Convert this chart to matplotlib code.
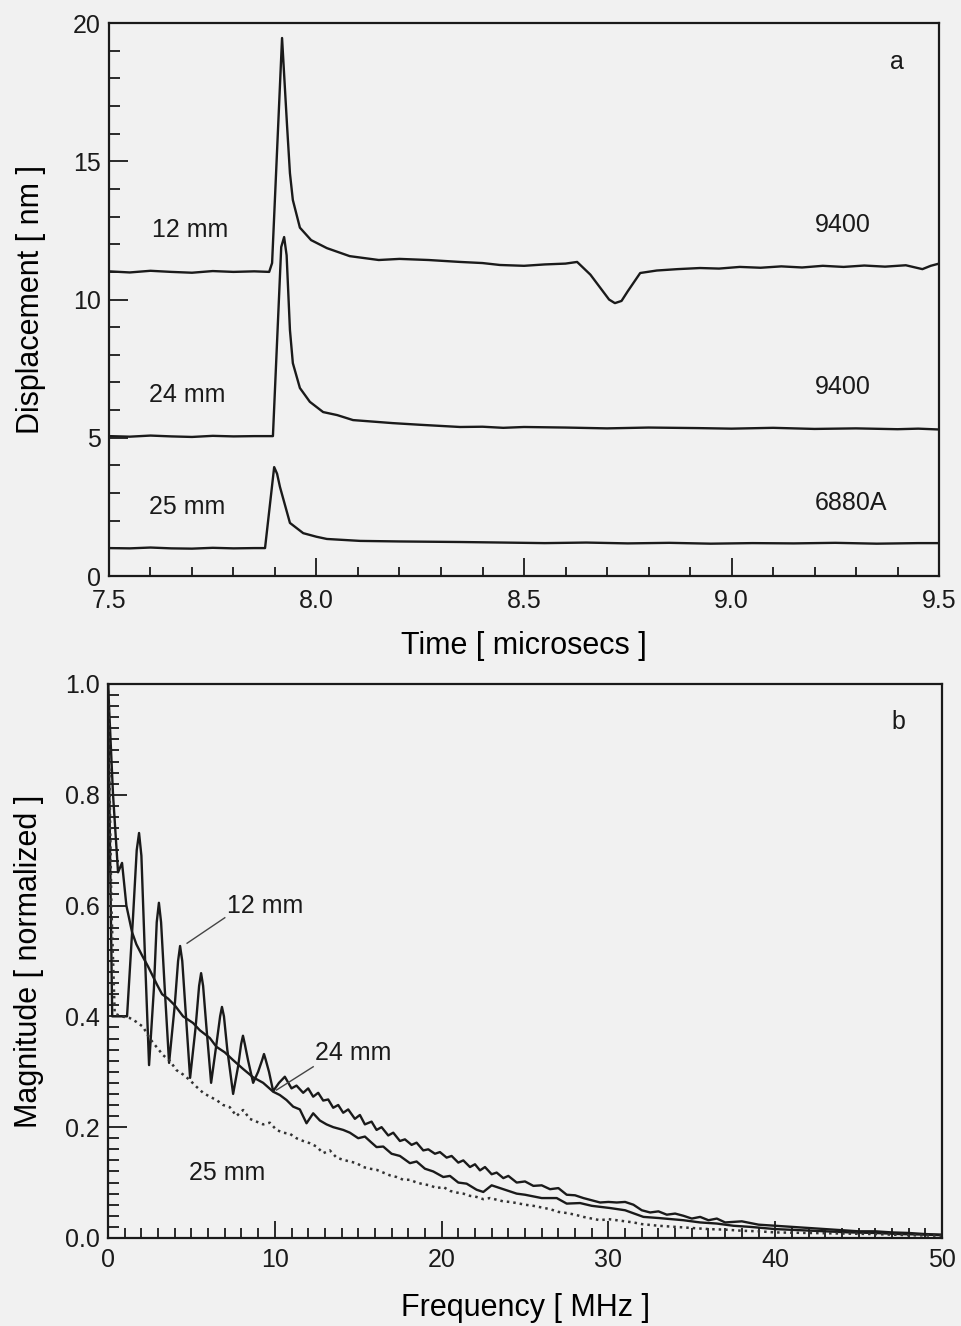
import matplotlib
matplotlib.use("Agg")
import matplotlib.pyplot as plt
from matplotlib.ticker import MultipleLocator, FormatStrFormatter

plt.rcParams['font.family'] = ['Liberation Sans', 'DejaVu Sans']

# ---- panel a: displacement traces (time in microsecs, displacement in nm)
t_12 = [7.50, 7.55, 7.60, 7.65, 7.70, 7.75, 7.80, 7.85, 7.886, 7.893,
        7.917, 7.929, 7.936, 7.943, 7.96, 7.987, 8.025, 8.08, 8.15, 8.20,
        8.27, 8.346, 8.40, 8.442, 8.50, 8.55, 8.60, 8.628, 8.66, 8.69,
        8.705, 8.719, 8.735, 8.75, 8.78, 8.82, 8.87, 8.924, 8.97, 9.02,
        9.07, 9.12, 9.17, 9.22, 9.27, 9.32, 9.37, 9.42, 9.46, 9.48, 9.50]
y_12 = [11.02, 10.98, 11.04, 11.0, 10.97, 11.03, 11.0, 11.02, 11.0, 11.32,
        19.46, 16.3, 14.57, 13.6, 12.6, 12.15, 11.86, 11.57, 11.43, 11.47,
        11.43, 11.36, 11.32, 11.25, 11.22, 11.27, 11.30, 11.36, 10.9, 10.3,
        10.0, 9.87, 9.95, 10.3, 10.96, 11.05, 11.10, 11.14, 11.12, 11.18,
        11.15, 11.20, 11.16, 11.22, 11.18, 11.23, 11.19, 11.24, 11.10, 11.22, 11.30]

t_24 = [7.50, 7.55, 7.60, 7.65, 7.70, 7.75, 7.80, 7.85, 7.895, 7.915,
        7.922, 7.928, 7.936, 7.943, 7.96, 7.984, 8.016, 8.05, 8.088, 8.184,
        8.25, 8.346, 8.40, 8.45, 8.50, 8.60, 8.70, 8.80, 8.92, 9.00,
        9.10, 9.20, 9.30, 9.40, 9.45, 9.50]
y_24 = [5.06, 5.04, 5.08, 5.05, 5.03, 5.07, 5.05, 5.06, 5.06, 11.9,
        12.26, 11.6, 8.9, 7.7, 6.8, 6.3, 5.93, 5.82, 5.64, 5.53,
        5.47, 5.39, 5.40, 5.36, 5.39, 5.37, 5.34, 5.37, 5.35, 5.33,
        5.36, 5.32, 5.34, 5.31, 5.33, 5.30]

t_25 = [7.50, 7.55, 7.60, 7.65, 7.70, 7.75, 7.80, 7.85, 7.876, 7.898,
        7.905, 7.912, 7.936, 7.968, 8.0, 8.025, 8.105, 8.20, 8.346, 8.45,
        8.55, 8.65, 8.75, 8.85, 8.95, 9.05, 9.15, 9.25, 9.35, 9.45, 9.50]
y_25 = [1.01, 1.0, 1.03, 1.0, 0.99, 1.02, 1.0, 1.01, 1.01, 3.94,
        3.7, 3.22, 1.92, 1.55, 1.42, 1.34, 1.27, 1.25, 1.23, 1.21,
        1.19, 1.21, 1.18, 1.20, 1.17, 1.19, 1.18, 1.20, 1.17, 1.19, 1.19]

# ---- panel b: normalized spectra (frequency in MHz)
f_12 = [0.0, 0.12, 0.25, 0.6, 1.14, 1.5, 1.72, 1.86, 2.0, 2.2,
        2.46, 2.75, 2.92, 3.05, 3.18, 3.4, 3.66, 4.0, 4.2, 4.32,
        4.45, 4.65, 4.92, 5.25, 5.46, 5.58, 5.7, 5.9, 6.18, 6.5,
        6.72, 6.83, 6.95, 7.15, 7.5, 7.8, 7.98, 8.09, 8.2, 8.4,
        8.7, 9.0, 9.25, 9.35, 9.45, 9.65, 9.9, 10.25, 10.5, 10.6,
        11.0, 11.3, 11.7, 12.0, 12.3, 12.6, 12.9, 13.2, 13.5, 13.8,
        14.1, 14.4, 14.8, 15.1, 15.4, 15.8, 16.1, 16.4, 16.8, 17.1,
        17.5, 17.8, 18.2, 18.5, 18.9, 19.2, 19.6, 19.9, 20.3, 20.6,
        21.0, 21.3, 21.7, 22.0, 22.3, 22.6, 23.0, 23.3, 23.7, 24.0,
        24.5, 25.0, 25.5, 26.0, 26.5, 27.0, 27.5, 28.0, 28.5, 29.0,
        29.5, 30.0, 30.5, 31.0, 31.5, 32.0, 32.5, 33.0, 33.5, 34.0,
        34.5, 35.0, 35.5, 36.0, 36.5, 37.0, 38.0, 39.0, 40.0, 41.0,
        42.0, 43.0, 44.0, 45.0, 46.0, 47.0, 48.0, 49.0, 50.0]
m_12 = [1.0, 0.70, 0.40, 0.40, 0.40, 0.58, 0.70, 0.731, 0.69, 0.52,
        0.312, 0.45, 0.57, 0.605, 0.57, 0.45, 0.316, 0.42, 0.50, 0.527,
        0.50, 0.41, 0.289, 0.38, 0.455, 0.478, 0.455, 0.38, 0.28, 0.35,
        0.40, 0.417, 0.40, 0.34, 0.26, 0.31, 0.35, 0.365, 0.35, 0.32,
        0.28, 0.30, 0.322, 0.332, 0.322, 0.30, 0.265, 0.28, 0.288, 0.291,
        0.270, 0.275, 0.262, 0.270, 0.255, 0.262, 0.248, 0.250, 0.235, 0.240,
        0.226, 0.232, 0.215, 0.222, 0.205, 0.210, 0.195, 0.200, 0.185, 0.190,
        0.175, 0.178, 0.168, 0.172, 0.158, 0.160, 0.152, 0.155, 0.145, 0.148,
        0.136, 0.140, 0.128, 0.133, 0.122, 0.128, 0.115, 0.118, 0.108, 0.112,
        0.100, 0.102, 0.094, 0.095, 0.088, 0.090, 0.078, 0.077, 0.072, 0.068,
        0.064, 0.065, 0.064, 0.065, 0.060, 0.050, 0.046, 0.048, 0.042, 0.044,
        0.040, 0.035, 0.038, 0.032, 0.035, 0.028, 0.030, 0.024, 0.022, 0.020,
        0.018, 0.016, 0.014, 0.012, 0.012, 0.010, 0.009, 0.007, 0.006]

f_24 = [0.0, 0.3, 0.6, 0.84, 1.1, 1.44, 1.7, 2.04, 2.4, 2.94,
        3.24, 3.6, 4.0, 4.5, 5.1, 5.5, 6.1, 6.5, 7.0, 7.5,
        8.1, 8.7, 9.3, 9.9, 10.3, 10.7, 11.1, 11.5, 11.9, 12.3,
        12.7, 13.1, 13.5, 14.1, 14.5, 15.0, 15.4, 15.8, 16.1, 16.5,
        17.0, 17.5, 18.1, 18.5, 19.0, 19.5, 20.1, 20.5, 21.0, 21.5,
        22.1, 22.5, 23.0, 23.5, 24.0, 24.5, 25.0, 25.5, 26.0, 26.9,
        27.5, 28.3, 29.0, 30.1, 31.0, 32.1, 33.0, 34.5, 35.5, 36.5,
        37.5, 38.5, 40.0, 41.5, 43.0, 44.5, 46.0, 47.5, 49.0, 50.0]
m_24 = [1.0, 0.80, 0.66, 0.677, 0.60, 0.552, 0.53, 0.51, 0.49, 0.457,
        0.44, 0.432, 0.42, 0.40, 0.388, 0.375, 0.361, 0.345, 0.335, 0.321,
        0.305, 0.29, 0.28, 0.264, 0.258, 0.249, 0.237, 0.232, 0.207, 0.225,
        0.212, 0.205, 0.200, 0.195, 0.190, 0.180, 0.183, 0.172, 0.164, 0.165,
        0.152, 0.148, 0.135, 0.138, 0.125, 0.120, 0.110, 0.112, 0.100, 0.098,
        0.087, 0.083, 0.095, 0.090, 0.085, 0.080, 0.078, 0.075, 0.072, 0.072,
        0.062, 0.063, 0.058, 0.054, 0.050, 0.038, 0.036, 0.032, 0.028, 0.026,
        0.022, 0.020, 0.016, 0.014, 0.012, 0.010, 0.009, 0.007, 0.006, 0.005]

f_25 = [0.0, 0.2, 0.4, 0.8, 1.3, 1.7, 2.1, 2.5, 2.9, 3.3,
        3.7, 4.1, 4.5, 4.9, 5.3, 5.7, 6.1, 6.5, 6.9, 7.3,
        7.7, 8.1, 8.5, 8.9, 9.3, 9.7, 10.1, 10.5, 10.9, 11.3,
        11.7, 12.1, 12.5, 12.9, 13.3, 13.7, 14.1, 14.5, 14.9, 15.3,
        15.7, 16.1, 16.5, 16.9, 17.3, 17.7, 18.1, 18.5, 18.9, 19.3,
        19.7, 20.1, 20.5, 20.9, 21.3, 21.7, 22.1, 22.5, 22.9, 23.3,
        23.7, 24.1, 24.5, 25.0, 25.5, 26.0, 26.5, 27.0, 27.5, 28.0,
        28.5, 29.0, 29.5, 30.0, 30.5, 31.0, 31.5, 32.0, 33.0, 34.0,
        35.0, 36.0, 37.0, 38.0, 39.0, 40.0, 42.0, 44.0, 46.0, 48.0, 50.0]
m_25 = [1.0, 0.60, 0.405, 0.40, 0.397, 0.39, 0.381, 0.36, 0.345, 0.33,
        0.32, 0.303, 0.295, 0.285, 0.273, 0.262, 0.255, 0.249, 0.24, 0.236,
        0.22, 0.231, 0.215, 0.21, 0.205, 0.208, 0.195, 0.19, 0.188, 0.18,
        0.175, 0.171, 0.165, 0.153, 0.158, 0.145, 0.141, 0.138, 0.135, 0.128,
        0.125, 0.123, 0.118, 0.113, 0.11, 0.105, 0.105, 0.10, 0.097, 0.095,
        0.09, 0.092, 0.085, 0.082, 0.08, 0.076, 0.074, 0.07, 0.072, 0.069,
        0.066, 0.065, 0.063, 0.06, 0.058, 0.055, 0.052, 0.047, 0.045, 0.042,
        0.038, 0.035, 0.032, 0.034, 0.032, 0.03, 0.028, 0.025, 0.022, 0.02,
        0.018, 0.016, 0.015, 0.013, 0.012, 0.01, 0.009, 0.008, 0.007, 0.005, 0.004]

bg = '#f1f1f1'
ink = '#1a1a1a'
fig = plt.figure(figsize=(9.62, 13.26), dpi=100, facecolor=bg)
ax1 = fig.add_axes([0.1133, 0.5656, 0.8628, 0.4170], facecolor=bg)
ax2 = fig.add_axes([0.1123, 0.0664, 0.8669, 0.4178], facecolor=bg)

# panel a
for t, y in [(t_12, y_12), (t_24, y_24), (t_25, y_25)]:
    ax1.plot(t, y, color=ink, lw=1.7)
ax1.set_xlim(7.5, 9.5)
ax1.set_ylim(0, 20)
ax1.xaxis.set_major_locator(MultipleLocator(0.5))
ax1.xaxis.set_minor_locator(MultipleLocator(0.1))
ax1.xaxis.set_major_formatter(FormatStrFormatter('%.1f'))
ax1.yaxis.set_major_locator(MultipleLocator(5))
ax1.yaxis.set_minor_locator(MultipleLocator(1))
ax1.tick_params(axis='x', which='major', length=13, pad=9)
ax1.tick_params(axis='x', which='minor', length=6.5)
ax1.tick_params(axis='y', which='major', length=13.5, pad=6)
ax1.tick_params(axis='y', which='minor', length=8)
ax1.set_xlabel('Time [ microsecs ]', fontsize=22, labelpad=13)
ax1.set_ylabel('Displacement [ nm ]', fontsize=22, labelpad=19)

txt = dict(fontsize=18, color=ink, va='center')
ax1.text(7.604, 12.5, '12 mm', **txt)
ax1.text(7.597, 6.55, '24 mm', **txt)
ax1.text(7.597, 2.5, '25 mm', **txt)
ax1.text(9.201, 12.7, '9400', **txt)
ax1.text(9.201, 6.84, '9400', **txt)
ax1.text(9.201, 2.64, '6880A', **txt)
ax1.text(9.382, 18.6, 'a', **txt)

# panel b
ax2.plot(f_12, m_12, color=ink, lw=1.7)
ax2.plot(f_24, m_24, color=ink, lw=1.7)
ax2.plot(f_25, m_25, color='#333333', lw=1.8, linestyle=(0, (1, 1.6)))
ax2.set_xlim(0, 50)
ax2.set_ylim(0, 1.0)
ax2.xaxis.set_major_locator(MultipleLocator(10))
ax2.xaxis.set_minor_locator(MultipleLocator(1))
ax2.yaxis.set_major_locator(MultipleLocator(0.2))
ax2.yaxis.set_minor_locator(MultipleLocator(0.02))
ax2.yaxis.set_major_formatter(FormatStrFormatter('%.1f'))
ax2.tick_params(axis='x', which='major', length=12, pad=7)
ax2.tick_params(axis='x', which='minor', length=7)
ax2.tick_params(axis='y', which='major', length=14, pad=6)
ax2.tick_params(axis='y', which='minor', length=8)
ax2.set_xlabel('Frequency [ MHz ]', fontsize=22, labelpad=15)
ax2.set_ylabel('Magnitude [ normalized ]', fontsize=22, labelpad=15)

ax2.text(7.13, 0.60, '12 mm', **txt)
ax2.plot([7.0, 4.74], [0.578, 0.532], color='#444444', lw=1.0)
ax2.text(12.4, 0.334, '24 mm', **txt)
ax2.plot([12.3, 10.1], [0.309, 0.267], color='#444444', lw=1.0)
ax2.text(4.86, 0.117, '25 mm', **txt)
ax2.text(47.0, 0.931, 'b', **txt)

for ax in (ax1, ax2):
    ax.tick_params(which='both', direction='in', top=False, right=False,
                   width=1.3, colors=ink, labelsize=18)
    for s in ax.spines.values():
        s.set_linewidth(1.6)
        s.set_color(ink)

fig.savefig('out.png', dpi=100, facecolor=bg)
